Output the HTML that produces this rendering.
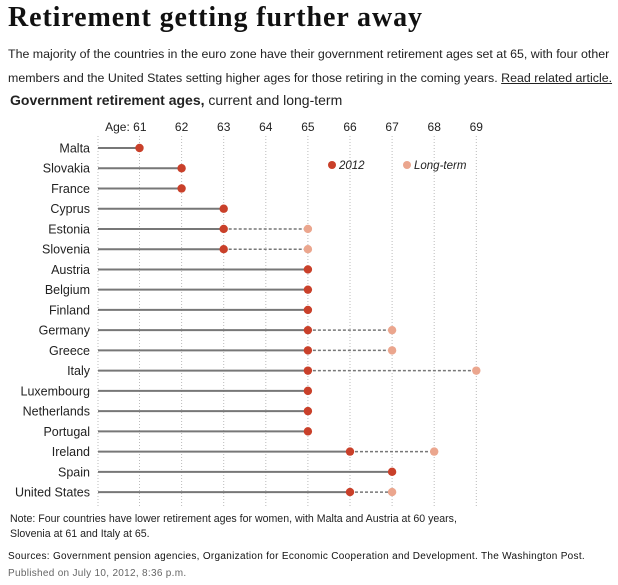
<!DOCTYPE html>
<html><head><meta charset="utf-8"><style>
body{margin:0;background:#fff;width:618px;height:585px;overflow:hidden;font-family:"Liberation Sans",sans-serif;color:#222}
h1{position:absolute;left:8px;top:2px;margin:0;font-family:"Liberation Serif",serif;font-weight:bold;font-size:28px;letter-spacing:0.9px;color:#111}
.dek{position:absolute;left:8px;top:42px;width:610px;font-size:12.4px;line-height:24px;color:#222}
.dek a{color:#222;text-decoration:underline}
.ct{position:absolute;left:10px;top:92px;font-size:14px;color:#222}
.note{position:absolute;left:10px;top:512px;font-size:10.6px;line-height:15px;color:#222}
.src{position:absolute;left:8px;top:551px;font-size:10px;color:#111;letter-spacing:0.3px}
.pub{position:absolute;left:8px;top:568px;font-size:10px;color:#666;letter-spacing:0.3px}
svg{position:absolute;left:0;top:0}
</style></head><body>
<h1>Retirement getting further away</h1>
<div class="dek">The majority of the countries in the euro zone have their government retirement ages set at 65, with four other members and the United States setting higher ages for those retiring in the coming years. <a>Read related article.</a></div>
<div class="ct"><b>Government retirement ages,</b> current and long-term</div>
<svg id="chart" width="618" height="585"></svg>
<div class="note">Note: Four countries have lower retirement ages for women, with Malta and Austria at 60 years,<br>Slovenia at 61 and Italy at 65.</div>
<div class="src">Sources: Government pension agencies, Organization for Economic Cooperation and Development. The Washington Post.</div>
<div class="pub">Published on July 10, 2012, 8:36 p.m.</div>
<script>
const countries=["Malta","Slovakia","France","Cyprus","Estonia","Slovenia","Austria","Belgium","Finland","Germany","Greece","Italy","Luxembourg","Netherlands","Portugal","Ireland","Spain","United States"];
const current=[61,62,62,63,63,63,65,65,65,65,65,65,65,65,65,66,67,66];
const longTerm=[null,null,null,null,65,65,null,null,null,67,67,69,null,null,null,68,null,67];
const ticks=[61,62,63,64,65,66,67,68,69];
const NS="http://www.w3.org/2000/svg";
const svg=document.getElementById('chart');
const x=v=>139.5+(v-61)*42.1;
const y=i=>148+i*20.24;
const x0=98;
function mk(t,a){const e=document.createElementNS(NS,t);for(const k in a)e.setAttribute(k,a[k]);svg.appendChild(e);return e;}
[x0].concat(ticks.map(x)).forEach((gx,j)=>{
 const l=mk('line',{x1:gx,x2:gx,y1:136,y2:508,stroke:'#bbb','stroke-width':1,'stroke-dasharray':'1,2'});
 
 
});
ticks.forEach((t,j)=>{
 const tx=mk('text',{x:x(t),y:131,'text-anchor':'middle','font-size':12,fill:'#222'});
 tx.textContent=j===0?'Age: '+t:String(t);
 if(j===0){tx.setAttribute('text-anchor','end');tx.setAttribute('x',x(t)+7);}
 
 
});
countries.forEach((c,i)=>{
 const cy=y(i);
 const lb=mk('text',{x:90,y:cy+4.5,'text-anchor':'end','font-size':12.5,fill:'#222'});
 lb.textContent=c;
 
 
 const ln=mk('line',{x1:x0,x2:x(current[i]),y1:cy,y2:cy,stroke:'#777','stroke-width':2});
 
 
 if(longTerm[i]!==null){
  const dl=mk('line',{x1:x(current[i]),x2:x(longTerm[i]),y1:cy,y2:cy,stroke:'#777','stroke-width':1.5,'stroke-dasharray':'3,2'});
  
  
  const lp=mk('circle',{cx:x(longTerm[i]),cy:cy,r:4.2,fill:'#eba68e'});
  
  
 }
 const p=mk('circle',{cx:x(current[i]),cy:cy,r:4.2,fill:'#c9402a'});
 
 
});
const l1=mk('circle',{cx:332,cy:165,r:4,fill:'#c9402a'});


const t1=mk('text',{x:339,y:169,'font-size':11.5,'font-style':'italic',fill:'#222'});
t1.textContent='2012';


const l2=mk('circle',{cx:407,cy:165,r:4,fill:'#eba68e'});


const t2=mk('text',{x:414,y:169,'font-size':11.5,'font-style':'italic',fill:'#222'});
t2.textContent='Long-term';


</script>
</body></html>
